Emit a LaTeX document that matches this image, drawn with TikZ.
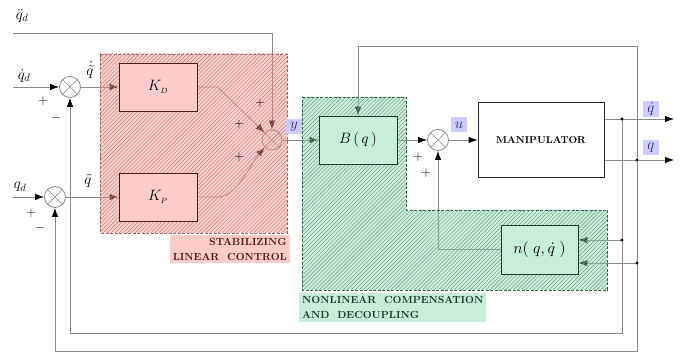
\RequirePackage{fix-cm}
\documentclass[tikz,border=0pt]{standalone}
\usepackage{amsmath}
\usetikzlibrary{arrows.meta,patterns.meta}

\definecolor{wire}{RGB}{138,138,138}
\definecolor{pinkzone}{RGB}{255,140,140}
\definecolor{pinkhatch}{RGB}{205,135,135}
\definecolor{pinkedge}{RGB}{150,110,110}
\definecolor{greenzone}{RGB}{130,220,170}
\definecolor{greenhatch}{RGB}{118,170,140}
\definecolor{greenedge}{RGB}{60,100,75}
\definecolor{pinkbox}{RGB}{255,204,204}
\definecolor{greenbox}{RGB}{200,237,216}
\definecolor{tagblue}{RGB}{204,204,255}
\definecolor{tagtext}{RGB}{40,40,110}
\definecolor{redink}{RGB}{85,25,25}
\definecolor{greenink}{RGB}{25,60,40}

\pgfdeclarelayer{wires}
\pgfdeclarelayer{zones}
\pgfsetlayers{wires,zones,main}

\tikzset{
  wireline/.style={draw=wire, line width=0.8pt},
  arr/.style={wireline, -{Latex[length=9pt,width=6.5pt,color=black]}},
  summer/.style={circle, draw=wire, fill=white, line width=0.8pt,
    minimum size=21pt, inner sep=0pt,
    path picture={\draw[wire, line width=0.6pt]
      (path picture bounding box.north west) -- (path picture bounding box.south east)
      (path picture bounding box.north east) -- (path picture bounding box.south west);}},
  mathlbl/.style={font=\fontsize{15}{17}\selectfont, inner sep=0pt},
  pblock/.style={draw=redink, fill=pinkbox, line width=0.8pt,
    minimum width=78pt, minimum height=48pt, font=\fontsize{15}{17}\selectfont},
  gblock/.style={draw=greenink, fill=greenbox, line width=0.8pt,
    minimum width=78pt, minimum height=48pt, font=\fontsize{15}{17}\selectfont},
  mblock/.style={draw=black!85, fill=white, line width=0.8pt,
    minimum width=126pt, minimum height=75pt, font=\bfseries\fontsize{10}{12}\selectfont},
  tag/.style={fill=tagblue, text=tagtext, inner sep=1.5pt, minimum width=16pt, minimum height=15pt,
    font=\fontsize{15}{17}\selectfont},
  sign/.style={font=\fontsize{13}{14}\selectfont, inner sep=0pt},
  zonetext/.style={font=\bfseries\fontsize{10.3}{15}\selectfont, inner sep=3pt},
  dot/.style={circle, fill=black, inner sep=0pt, minimum size=3.4pt},
  hatch/.style={pattern={Lines[angle=45,distance=2.8pt,line width=0.6pt]}},
}

\begin{document}
\begin{tikzpicture}[x=1pt,y=-1pt]
\useasboundingbox (0,0) rectangle (686,352);

% ---- blocks ----
\node[pblock] (KD) at (158,87) {$K_{\scriptscriptstyle D}$};
\node[pblock] (KP) at (158,197) {$K_{\scriptscriptstyle P}$};
\node[gblock] (B) at (358,140) {$B\,(\,q\,)$};
\node[gblock, minimum width=77pt, minimum height=49pt, font=\fontsize{16}{18}\selectfont] (n) at (539.5,249.5)
  {$n(\;q,\dot q\;)$};
\node[mblock] (M) at (541,140) {MANIPULATOR};

% ---- wiring, summing junctions (underneath the tinted zones) ----
\begin{pgfonlayer}{wires}
  \node[summer] (s1) at (70,87) {};
  \node[summer] (s2) at (55,197) {};
  \node[summer, minimum size=20pt] (sy) at (272,140) {};
  \node[summer] (su) at (438,140) {};

  \coordinate (qddin) at (13,33);
  \coordinate (qdin) at (13,87);
  \coordinate (qin) at (13,197);
  \coordinate (qdout) at (674,119);
  \coordinate (qout) at (674,160);
  \coordinate (j1) at (622,119);
  \coordinate (j2) at (637,160);
  \coordinate (j3) at (622,240);
  \coordinate (j4) at (637,263);

  \draw[arr] (qddin) -- (qddin -| sy) -- (sy);
  \draw[arr] (qdin) -- (s1);
  \draw[arr] (qin) -- (s2);
  \draw[arr] (s1) -- (KD);
  \draw[arr] (s2) -- (KP);
  \draw[arr] (KD.east) -- ++(20,0) -- (sy.north west);
  \draw[arr] (KP.east) -- ++(20,0) .. controls +(20,0) and +(-14,16) .. (sy.south west);
  \draw[arr] (sy) -- (B);
  \draw[arr] (B) -- (su);
  \draw[arr] (su) -- (M);
  \draw[arr] (M.east |- qdout) -- (qdout);
  \draw[arr] (M.east |- qout) -- (qout);

  \draw[arr] (j2) -- ++(0,-114) -| (B);
  \draw[arr] (j1) -- ++(0,214) -| (s1);
  \draw[arr] (j2) -- ++(0,191) -| (s2);
  \draw[arr] (j3) -- (j3 -| n.east);
  \draw[arr] (j4) -- (j4 -| n.east);
  \draw[arr] (n.west) -| (su);

  \node[dot] at (j1) {};
  \node[dot] at (j2) {};
  \node[dot] at (j3) {};
  \node[dot] at (j4) {};
\end{pgfonlayer}

% ---- translucent hatched zones ----
\begin{pgfonlayer}{zones}
  \fill[pinkzone, fill opacity=0.4] (100,54) rectangle (287,233);
  \fill[hatch, pattern color=pinkhatch] (100,54) rectangle (287,233);
  \draw[pinkedge, dash pattern=on 3pt off 1.5pt, line width=0.6pt] (100,54) rectangle (287,233);

  \fill[greenzone, fill opacity=0.4]
    (302,97) -- (406,97) -- (406,210) -- (607,210) -- (607,290) -- (302,290) -- cycle;
  \fill[hatch, pattern color=greenhatch]
    (302,97) -- (406,97) -- (406,210) -- (607,210) -- (607,290) -- (302,290) -- cycle;
  \draw[greenedge, dash pattern=on 3pt off 1.5pt, line width=0.6pt]
    (302,97) -- (406,97) -- (406,210) -- (607,210) -- (607,290) -- (302,290) -- cycle;
\end{pgfonlayer}

% ---- signal names ----
\node[mathlbl] (lqdd) at (22,16) {$\ddot q_{d}$};
\node[mathlbl] (lqd) at (24,76) {$\dot q_{d}$};
\node[mathlbl] (lqq) at (20,187) {$q_{d}$};
\node[mathlbl] (lerrd) at (90,70) {$\dot{\tilde q}$};
\node[mathlbl] (lerr) at (88,181) {$\tilde q$};
\node[tag] (ty) at (294,127) {$y$};
\node[tag] (tu) at (459,125) {$u$};
\node[tag] (tqd) at (651,109) {$\dot q$};
\node[tag] (tq) at (651,148) {$q$};

% ---- signs at the summing junctions ----
\node[sign] at (43,101) {$+$};
\node[sign] at (56,118) {$-$};
\node[sign] at (31,213) {$+$};
\node[sign] at (40,228) {$-$};
\node[sign] at (260,103) {$+$};
\node[sign] at (239,124) {$+$};
\node[sign] at (239,157) {$+$};
\node[sign] at (418,157) {$+$};
\node[sign] at (426,173) {$+$};

% ---- zone captions ----
\node[zonetext, fill=pinkbox, text=redink, anchor=north east, align=right] (cap1) at (290,235)
  {STABILIZING\\LINEAR\ \ CONTROL};
\node[zonetext, fill=greenbox, text=greenink, anchor=north west, align=left] (cap2) at (299,293)
  {NONLINEAR\ \ COMPENSATION\\AND\ \ DECOUPLING};
\end{tikzpicture}
\end{document}
